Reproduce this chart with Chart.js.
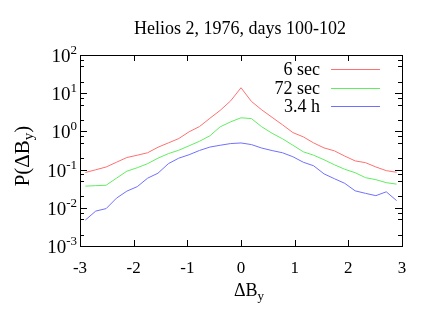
<!DOCTYPE html>
<html>
<head>
<meta charset="utf-8">
<script src="https://cdn.jsdelivr.net/npm/chart.js@4/dist/chart.umd.min.js"></script>
<style>
html,body{margin:0;padding:0;background:#fff;}
#wrap{width:436px;height:324px;}
</style>
</head>
<body>
<div id="wrap"><canvas id="c" width="436" height="324"></canvas></div>
<script>
// ---- data ----
const deltaB = [-2.9,-2.707,-2.513,-2.32,-2.127,-1.933,-1.74,-1.547,-1.353,-1.16,-0.967,-0.773,-0.58,-0.387,-0.193,0,
  0.193,0.387,0.58,0.773,0.967,1.16,1.353,1.547,1.74,1.933,2.127,2.32,2.513,2.707,2.9];
const p6sec = [0.084,0.099,0.117,0.156,0.207,0.238,0.276,0.385,0.50,0.649,0.977,1.34,2.20,3.56,6.30,13.9,
  6.11,3.66,2.33,1.49,0.93,0.72,0.50,0.37,0.31,0.226,0.169,0.152,0.117,0.094,0.085];
const p72sec = [0.0369,0.038,0.039,0.0596,0.0908,0.112,0.143,0.199,0.262,0.321,0.421,0.552,0.767,1.32,1.78,2.27,
  2.17,1.32,0.891,0.641,0.434,0.293,0.238,0.181,0.134,0.102,0.083,0.0615,0.0545,0.0455,0.0416];
const p34h = [0.00478,0.0082,0.00953,0.0179,0.0273,0.0358,0.0596,0.0805,0.143,0.199,0.245,0.317,0.389,0.434,0.48,0.498,
  0.452,0.366,0.315,0.276,0.217,0.156,0.126,0.0773,0.0578,0.0437,0.0278,0.0239,0.0208,0.0262,0.0154];
const seriesLabels = ['6 sec','72 sec','3.4 h'];
const xTicks = [-3,-2,-1,0,1,2,3];
const xTickLabels = ['-3','-2','-1','0','1','2','3'];
const yTickExps = [-3,-2,-1,0,1,2];
const yMinorMult = [2,5,7.5];
const titleText = 'Helios 2, 1976, days 100-102';

const colors = ['rgb(255,112,112)','rgb(96,238,96)','rgb(112,112,255)'];
const serif = '"Liberation Serif","DejaVu Serif",serif';

function pts(ys){ return deltaB.map((x,i)=>({x:x,y:ys[i]})); }

const decor = {
  id:'decor',
  afterDraw(chart){
    const ctx = chart.ctx, a = chart.chartArea;
    const xs = chart.scales.x, ys = chart.scales.y;
    ctx.save();
    // frame
    ctx.strokeStyle = '#000'; ctx.lineWidth = 1;
    ctx.strokeRect(Math.round(a.left)+0.5, Math.round(a.top)+0.5, Math.round(a.right-a.left), Math.round(a.bottom-a.top));
    // x ticks
    ctx.beginPath();
    xTicks.forEach(v=>{
      const px = Math.round(xs.getPixelForValue(v))+0.5;
      ctx.moveTo(px, a.bottom); ctx.lineTo(px, a.bottom-6);
      ctx.moveTo(px, a.top); ctx.lineTo(px, a.top+6);
    });
    // y ticks
    yTickExps.forEach(e=>{
      const py = Math.round(ys.getPixelForValue(Math.pow(10,e)))+0.5;
      ctx.moveTo(a.left, py); ctx.lineTo(a.left+7, py);
      ctx.moveTo(a.right, py); ctx.lineTo(a.right-7, py);
      if (e < yTickExps[yTickExps.length-1]) {
        yMinorMult.forEach(m=>{
          const q = Math.round(ys.getPixelForValue(m*Math.pow(10,e)))+0.5;
          ctx.moveTo(a.left, q); ctx.lineTo(a.left+4, q);
          ctx.moveTo(a.right, q); ctx.lineTo(a.right-4, q);
        });
      }
    });
    ctx.stroke();

    ctx.fillStyle = '#000';
    // x tick labels
    ctx.font = '17px '+serif;
    ctx.textAlign = 'center'; ctx.textBaseline = 'alphabetic';
    xTicks.forEach((v,i)=>{
      ctx.fillText(xTickLabels[i], xs.getPixelForValue(v), a.bottom+27);
    });
    // y tick labels 10^n
    yTickExps.forEach(e=>{
      const py = ys.getPixelForValue(Math.pow(10,e));
      const sup = String(e);
      ctx.font = '13px '+serif;
      const ws = ctx.measureText(sup).width;
      const right = a.left - 3;
      ctx.textAlign = 'left';
      ctx.fillText(sup, right-ws, py-1);
      ctx.font = '19px '+serif;
      const wb = ctx.measureText('10').width;
      ctx.fillText('10', right-ws-wb, py+7);
    });
    // title
    ctx.font = '18px '+serif; ctx.textAlign='center';
    ctx.fillText(titleText, 240, 34);
    // x axis label
    ctx.textAlign='left';
    ctx.font = '18px '+serif;
    const wD = ctx.measureText('\u0394B').width;
    let x0 = 234;
    ctx.font = '18px '+serif; ctx.fillText('\u0394B', x0, 296);
    ctx.font = '13px '+serif; ctx.fillText('y', x0+wD, 300);
    // y axis label (rotated)
    ctx.save();
    ctx.translate(29, 156);
    ctx.rotate(-Math.PI/2);
    ctx.font = '21px '+serif;
    const w1 = ctx.measureText('P(\u0394B').width;
    ctx.font = '15px '+serif;
    const w2 = ctx.measureText('y').width;
    ctx.font = '21px '+serif;
    const w3 = ctx.measureText(')').width;
    let s = -(w1+w2+w3)/2;
    ctx.textAlign='left';
    ctx.fillText('P(\u0394B', s, 0);
    ctx.font = '15px '+serif; ctx.fillText('y', s+w1, 4);
    ctx.font = '21px '+serif; ctx.fillText(')', s+w1+w2, 0);
    ctx.restore();
    // legend
    ctx.font = '18px '+serif; ctx.textAlign='right';
    chart.data.datasets.forEach((ds,i)=>{
      const ly = 69 + i*18.7;
      ctx.fillStyle = '#000';
      ctx.fillText(ds.label, 320, ly+6);
      ctx.strokeStyle = ds.borderColor; ctx.lineWidth = 1;
      ctx.beginPath(); ctx.moveTo(331, Math.round(ly)+0.5); ctx.lineTo(380, Math.round(ly)+0.5); ctx.stroke();
    });
    ctx.restore();
  }
};

new Chart(document.getElementById('c'), {
  type:'line',
  data:{ datasets:[
    {label:seriesLabels[0], data:pts(p6sec), borderColor:colors[0], borderWidth:1, pointRadius:0, tension:0, fill:false},
    {label:seriesLabels[1], data:pts(p72sec), borderColor:colors[1], borderWidth:1, pointRadius:0, tension:0, fill:false},
    {label:seriesLabels[2], data:pts(p34h), borderColor:colors[2], borderWidth:1, pointRadius:0, tension:0, fill:false}
  ]},
  options:{
    responsive:false, animation:false,
    layout:{padding:{left:80,right:34,top:55,bottom:78}},
    scales:{
      x:{type:'linear', min:-3, max:3, display:false},
      y:{type:'logarithmic', min:0.001, max:100, display:false}
    },
    plugins:{legend:{display:false}, title:{display:false}, tooltip:{enabled:false}}
  },
  plugins:[decor]
});
</script>
</body>
</html>
